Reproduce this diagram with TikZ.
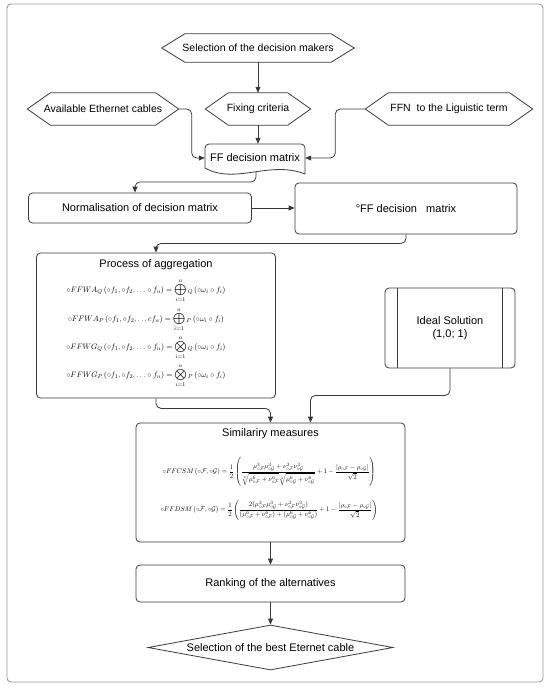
\documentclass[tikz,border=0pt]{standalone}
\usepackage{amsmath}
\usepackage{amssymb}
\usepackage{fontspec}
\setmainfont{Liberation Sans}
\usetikzlibrary{shapes.geometric, arrows.meta}

\definecolor{inkgray}{HTML}{3A3A3A}

\tikzset{
    every node/.style={font=\fontsize{11}{13}\selectfont, text=black},
    hexa/.style={inner sep=0pt, font=\fontsize{10.5}{12}\selectfont},
    box/.style={draw=inkgray, line width=0.8pt, rounded corners=4pt, inner sep=0pt},
    formula/.style={inner sep=0pt},
    conn/.style={draw=inkgray, line width=0.8pt, rounded corners=5pt,
        -{Triangle[length=6pt, width=5pt]}},
}

\begin{document}
\begin{tikzpicture}[x=1pt, y=-1pt]
    \useasboundingbox (0,0) rectangle (550,688);
    \draw[gray!80, line width=0.9pt, rounded corners=4pt] (7,4) rectangle (543,682);

    % top inputs
    \node[hexa, minimum width=192pt, minimum height=28pt] (sel) at (258,48) {Selection of the decision makers};
    \node[hexa, minimum width=105pt, minimum height=32pt] (fix) at (258,109) {Fixing criteria};
    \node[hexa, minimum width=151pt, minimum height=32pt] (avail) at (103,109) {Available Ethernet cables};
    \node[hexa, minimum width=167pt, minimum height=32pt] (ffn) at (449,109) {FFN\ \ to the Liguistic term};
    \foreach \n in {sel, fix, avail, ffn}
        \draw[inkgray, line width=0.8pt] (\n.west) -- ([xshift=23pt]\n.north west) -- ([xshift=-23pt]\n.north east)
            -- (\n.east) -- ([xshift=-23pt]\n.south east) -- ([xshift=23pt]\n.south west) -- cycle;

    % document shape
    \node[minimum width=100pt, minimum height=28pt, inner sep=0pt] (ffm) at (255,158) {FF decision matrix};
    \draw[inkgray, line width=0.8pt] (205,168) {[rounded corners=4pt] -- (205,144) -- (305,144)} -- (305,174)
        .. controls (270,160) and (235,185) .. (205,168) -- cycle;
    \coordinate (ffm-out) at (256,172);

    \node[box, minimum width=223pt, minimum height=30pt] (norm) at (140,208) {Normalisation of decision matrix};
    \node[box, minimum width=222pt, minimum height=51pt] (offm) at (406,208.5) {°FF decision\ \ \ matrix};

    % aggregation
    \node[box, minimum width=239pt, minimum height=145pt] (aggr) at (156,325.5) {};
    \node[inner sep=1pt] (aggr-t) at (156,265) {Process of aggregation};
    \node[formula] (fa1) at (146,291) {\scalebox{0.72}{$\displaystyle \circ FFWA_{Q}\left(\circ f_1,\circ f_2,\ldots\circ f_n\right)=\bigoplus_{i=1}^{n}{}_{Q}\left(\circ\omega_i\circ f_i\right)$}};
    \node[formula] (fa2) at (146,320) {\scalebox{0.72}{$\displaystyle \circ FFWA_{P}\left(\circ f_1,\circ f_2,\ldots c f_n\right)=\bigoplus_{i=1}^{n}{}_{P}\left(\circ\omega_i\circ f_i\right)$}};
    \node[formula] (fa3) at (146,348) {\scalebox{0.72}{$\displaystyle \circ FFWG_{Q}\left(\circ f_1,\circ f_2,\ldots\circ f_n\right)=\bigotimes_{i=1}^{n}{}_{Q}\left(\circ\omega_i\circ f_i\right)$}};
    \node[formula] (fa4) at (146,376) {\scalebox{0.72}{$\displaystyle \circ FFWG_{P}\left(\circ f_1,\circ f_2,\ldots\circ f_n\right)=\bigotimes_{i=1}^{n}{}_{P}\left(\circ\omega_i\circ f_i\right)$}};

    % ideal solution
    \node[box, minimum width=130pt, minimum height=80pt, align=center] (ideal) at (450,328) {Ideal Solution\\(1,0; 1)};
    \draw[inkgray, line width=0.8pt] ([xshift=13pt]ideal.north west) -- ([xshift=13pt]ideal.south west);
    \draw[inkgray, line width=0.8pt] ([xshift=-13pt]ideal.north east) -- ([xshift=-13pt]ideal.south east);

    % similarity
    \node[box, minimum width=269pt, minimum height=119pt] (simi) at (270.5,482.5) {};
    \node[inner sep=1pt] (simi-t) at (270.5,434) {Similariry measures};
    \node[formula] (fs1) at (269,472) {\scalebox{0.62}{$\displaystyle \circ FFCSM\left(\circ\mathcal{F},\circ\mathcal{G}\right)=\frac{1}{2}\left(\frac{\mu^3_{\circ\mathcal{F}}\mu^3_{\circ\mathcal{G}}+\nu^3_{\circ\mathcal{F}}\nu^3_{\circ\mathcal{G}}}{\sqrt[3]{\mu^6_{\circ\mathcal{F}}+\nu^6_{\circ\mathcal{F}}}\sqrt[3]{\mu^6_{\circ\mathcal{G}}+\nu^6_{\circ\mathcal{G}}}}+1-\frac{\left|\rho_{\circ\mathcal{F}}-\rho_{\circ\mathcal{G}}\right|}{\sqrt{2}}\right)$}};
    \node[formula] (fs2) at (269,510) {\scalebox{0.62}{$\displaystyle \circ FFDSM\left(\circ\mathcal{F},\circ\mathcal{G}\right)=\frac{1}{2}\left(\frac{2(\mu^3_{\circ\mathcal{F}}\mu^3_{\circ\mathcal{G}}+\nu^3_{\circ\mathcal{F}}\nu^3_{\circ\mathcal{G}})}{(\mu^6_{\circ\mathcal{F}}+\nu^6_{\circ\mathcal{F}})+(\mu^6_{\circ\mathcal{G}}+\nu^6_{\circ\mathcal{G}})}+1-\frac{\left|\rho_{\circ\mathcal{F}}-\rho_{\circ\mathcal{G}}\right|}{\sqrt{2}}\right)$}};

    \node[box, minimum width=269pt, minimum height=37pt] (rank) at (270.5,583.5) {Ranking of the alternatives};
    \node[diamond, draw=inkgray, line width=0.8pt, inner sep=0pt, shape aspect=5.4,
        minimum width=245pt, minimum height=45pt] (best) at (270.5,647.5) {Selection of the best Eternet cable};

    % connectors
    \draw[conn] (sel.south) -- (fix.north);
    \draw[conn] (fix.south) -- (fix.south |- ffm.north);
    \draw[conn] (avail.east) -- ++(13,0) |- (ffm.west);
    \draw[conn] (ffn.west) -- ++(-30,0) |- (ffm.east);
    \draw[conn] (ffm-out) -- ++(0,10) -| ([xshift=-5pt]norm.north);
    \draw[conn] (norm.east) -- (norm.east -| offm.west);
    \draw[conn] (offm.south) -- ++(0,9) -| (aggr.north);
    \draw[conn] (aggr.south) -- ++(0,10) -| (simi.north);
    \draw[conn] (ideal.south) -- ++(0,27) -| ([xshift=40pt]simi.north);
    \draw[conn] (simi.south) -- (rank.north);
    \draw[conn] (rank.south) -- (best.north);

\end{tikzpicture}
\end{document}
